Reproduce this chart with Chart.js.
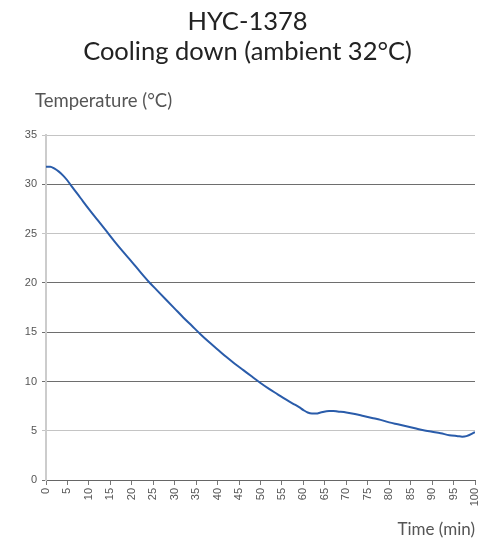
<!DOCTYPE html>
<html>
<head>
<meta charset="utf-8">
<script src="https://cdn.jsdelivr.net/npm/chart.js@4/dist/chart.umd.min.js"></script>
<style>
  html, body { margin: 0; padding: 0; background: #fff; }
  #wrap { width: 478px; height: 540px; position: relative; }
</style>
</head>
<body>
<div id="wrap"><canvas id="c" width="478" height="540"></canvas></div>
<script>
const titleLines = ["HYC-1378", "Cooling down (ambient 32°C)"];
const yAxisTitle = "Temperature (°C)";
const xAxisTitle = "Time (min)";
const times = [0, 1, 2, 3, 4, 5, 6, 8, 10, 12, 14, 16, 18, 20, 22, 24, 26, 28, 30, 32, 34, 36, 38, 40, 42, 44, 46, 48, 50, 52, 54, 56, 58, 59, 60, 61, 62, 63, 64, 66, 67, 68, 70, 72, 74, 76, 78, 80, 82, 84, 86, 88, 90, 92, 94, 96, 97, 98, 100];
const temps = [31.8, 31.8, 31.6, 31.3, 30.9, 30.4, 29.8, 28.65, 27.5, 26.4, 25.3, 24.2, 23.15, 22.15, 21.1, 20.1, 19.2, 18.3, 17.4, 16.5, 15.65, 14.8, 14.0, 13.25, 12.5, 11.8, 11.15, 10.5, 9.85, 9.25, 8.7, 8.15, 7.65, 7.4, 7.1, 6.85, 6.75, 6.75, 6.85, 7.0, 7.0, 6.95, 6.85, 6.7, 6.5, 6.3, 6.1, 5.85, 5.65, 5.45, 5.25, 5.05, 4.9, 4.75, 4.55, 4.45, 4.4, 4.45, 4.85];
const lightGridValues = [35, 25, 5];

const points = times.map((t, i) => ({ x: t, y: temps[i] }));

const yTitlePlugin = {
  id: 'yTitle',
  afterDraw(chart) {
    const ctx = chart.ctx;
    ctx.save();
    ctx.font = '18.5px Lato, "Noto Sans", sans-serif';
    ctx.fillStyle = '#555';
    ctx.textAlign = 'left';
    ctx.textBaseline = 'middle';
    ctx.fillText(yAxisTitle, chart.chartArea.left - 11, 101);
    ctx.restore();
  }
};

new Chart(document.getElementById('c'), {
  type: 'line',
  data: {
    datasets: [{
      data: points,
      borderColor: '#2a5caa',
      borderWidth: 2,
      pointRadius: 0,
      fill: false,
      cubicInterpolationMode: 'monotone'
    }]
  },
  options: {
    responsive: false,
    animation: false,
    layout: { padding: { left: 20, right: 3, top: 0, bottom: 0 } },
    plugins: {
      legend: { display: false },
      tooltip: { enabled: false },
      title: {
        display: true,
        text: titleLines,
        color: '#222',
        font: { family: 'Lato, "Noto Sans", sans-serif', size: 25.5, weight: 'normal', lineHeight: 1.18 },
        padding: { top: 7, bottom: 68 }
      }
    },
    scales: {
      x: {
        type: 'linear',
        min: 0,
        max: 100,
        afterFit(scale) { scale.height = 60; scale.paddingRight = 0; scale.paddingLeft = 0; },
        ticks: {
          stepSize: 5,
          minRotation: 90,
          maxRotation: 90,
          color: '#555',
          padding: 3,
          font: { family: '"Liberation Sans", Arial, sans-serif', size: 11 }
        },
        grid: { drawOnChartArea: false, drawTicks: true, tickLength: 5, color: '#777' },
        border: { color: '#666', width: 1 },
        title: {
          display: true,
          text: xAxisTitle,
          align: 'end',
          color: '#555',
          font: { family: 'Lato, "Noto Sans", sans-serif', size: 17, weight: 'normal' },
          padding: { top: 0, bottom: 0 }
        }
      },
      y: {
        min: 0,
        max: 35,
        afterFit(scale) { scale.width = 26; },
        ticks: {
          stepSize: 5,
          color: '#555',
          padding: 5,
          font: { family: '"Liberation Sans", Arial, sans-serif', size: 11 }
        },
        grid: {
          tickLength: 4,
          color(ctx) {
            const v = ctx.tick ? ctx.tick.value : null;
            return lightGridValues.includes(v) ? '#c4c4c4' : '#6e6e6e';
          }
        },
        border: { color: '#cccccc', width: 2 }
      }
    }
  },
  plugins: [yTitlePlugin]
});
</script>
</body>
</html>
